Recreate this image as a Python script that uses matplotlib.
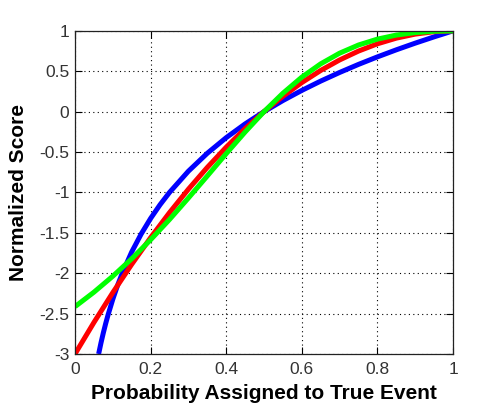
import matplotlib
matplotlib.use("Agg")
import matplotlib.pyplot as plt

plt.rcParams['font.family'] = ['Liberation Sans', 'DejaVu Sans']

# Probability values (x) and normalized scores
p_blue = [0.0625, 0.06875, 0.075, 0.08125, 0.0875, 0.1, 0.1125, 0.125, 0.15, 0.175, 0.2,
          0.225, 0.25, 0.3, 0.35, 0.4, 0.45, 0.5,
          0.55, 0.6, 0.65, 0.7, 0.75, 0.8, 0.85, 0.9, 0.95, 1.0]
s_blue = [-3.0, -2.8625, -2.737, -2.6215, -2.515, -2.322, -2.152, -2.0, -1.737, -1.515, -1.322,
          -1.152, -1.0, -0.737, -0.515, -0.322, -0.152, 0.0,
          0.1375, 0.263, 0.3785, 0.485, 0.585, 0.678, 0.7655, 0.848, 0.926, 1.0]

p_grid = [0.0, 0.05, 0.1, 0.15, 0.2, 0.25, 0.3, 0.35, 0.4, 0.45, 0.5,
          0.55, 0.6, 0.65, 0.7, 0.75, 0.8, 0.85, 0.9, 0.95, 1.0]
s_red = [-3.0, -2.61, -2.24, -1.89, -1.56, -1.25, -0.96, -0.69, -0.44, -0.21, 0.0,
         0.19, 0.36, 0.51, 0.64, 0.75, 0.84, 0.91, 0.96, 0.99, 1.0]
s_green = [-2.414, -2.235, -2.037, -1.821, -1.586, -1.335, -1.069, -0.796, -0.520, -0.252, 0.0,
           0.228, 0.427, 0.592, 0.724, 0.825, 0.898, 0.948, 0.979, 0.995, 1.0]

xticks = [0, 0.2, 0.4, 0.6, 0.8, 1]
xticklabels = ['0', '0.2', '0.4', '0.6', '0.8', '1']
yticks = [-3, -2.5, -2, -1.5, -1, -0.5, 0, 0.5, 1]
yticklabels = ['-3', '-2.5', '-2', '-1.5', '-1', '-0.5', '0', '0.5', '1']

fig = plt.figure(figsize=(5.0, 4.09), dpi=100)
ax = fig.add_axes([0.15, 0.1345, 0.756, 0.79])

lw = 3.6
ax.plot(p_blue, s_blue, color='#0000ff', lw=lw, solid_capstyle='butt', solid_joinstyle='round')
ax.plot(p_grid, s_red, color='#ff0000', lw=lw, solid_capstyle='butt', solid_joinstyle='round')
ax.plot(p_grid, s_green, color='#00ff00', lw=lw, solid_capstyle='butt', solid_joinstyle='round')

ax.set_xlim(0, 1)
ax.set_ylim(-3, 1)
ax.set_xticks(xticks)
ax.set_xticklabels(xticklabels)
ax.set_yticks(yticks)
ax.set_yticklabels(yticklabels)

ax.grid(True, color='black', linestyle=(0, (1, 3)), linewidth=0.8)
ax.set_axisbelow(True)
ax.tick_params(direction='in', top=True, right=True, length=5, width=0.8,
               labelsize=12.5, labelcolor='#333333')
ax.tick_params(axis='x', pad=6)
ax.tick_params(axis='y', pad=4)
for s in ax.spines.values():
    s.set_linewidth(0.9)
    s.set_color('#222222')

ax.set_xlabel('Probability Assigned to True Event', fontsize=15, fontweight='bold', labelpad=5)
ax.set_ylabel('Normalized Score', fontsize=15, fontweight='bold', labelpad=8)

fig.savefig('out.png', dpi=100)
